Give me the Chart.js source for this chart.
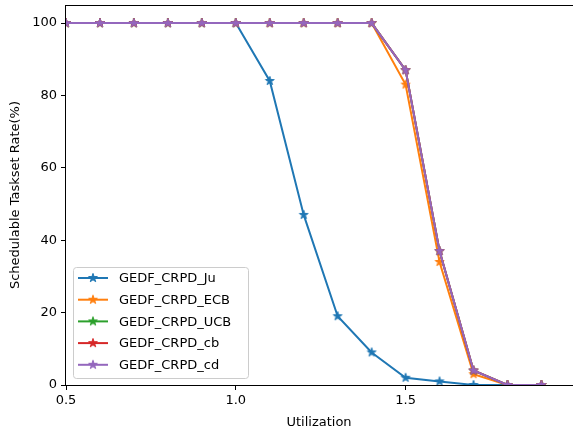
<!DOCTYPE html>
<html>
<head>
<meta charset="utf-8">
<script src="https://cdn.jsdelivr.net/npm/chart.js@4/dist/chart.umd.min.js"></script>
<style>
  html, body { margin: 0; padding: 0; background: #fff; }
  #wrap { width: 573px; height: 430px; }
</style>
</head>
<body>
<div id="wrap"><canvas id="rateChart" width="573" height="430"></canvas></div>
<script>
const utilization = [0.5, 0.6, 0.7, 0.8, 0.9, 1.0, 1.1, 1.2, 1.3, 1.4, 1.5, 1.6, 1.7, 1.8, 1.9];
const seriesNames = ["GEDF_CRPD_Ju", "GEDF_CRPD_ECB", "GEDF_CRPD_UCB", "GEDF_CRPD_cb", "GEDF_CRPD_cd"];
const ju  = [100, 100, 100, 100, 100, 100, 84, 47, 19, 9, 2, 1, 0, 0, 0];
const ecb = [100, 100, 100, 100, 100, 100, 100, 100, 100, 100, 83, 34, 3, 0, 0];
const ucb = [100, 100, 100, 100, 100, 100, 100, 100, 100, 100, 87, 37, 4, 0, 0];
const cb  = [100, 100, 100, 100, 100, 100, 100, 100, 100, 100, 87, 37, 4, 0, 0];
const cd  = [100, 100, 100, 100, 100, 100, 100, 100, 100, 100, 87, 37, 4, 0, 0];
const xTicks = [0.5, 1.0, 1.5];
const yTicks = [0, 20, 40, 60, 80, 100];
const colors = ["#1f77b4", "#ff7f0e", "#2ca02c", "#d62728", "#9467bd"];

const FONT = "'DejaVu Sans', sans-serif";

function makeStar(color) {
  const c = document.createElement("canvas");
  c.width = 12; c.height = 12;
  const ctx = c.getContext("2d");
  const R = 4.6, r = R * 0.382;
  ctx.beginPath();
  for (let i = 0; i < 10; i++) {
    const rad = i % 2 === 0 ? R : r;
    const a = -Math.PI / 2 + i * Math.PI / 5;
    const px = 6 + rad * Math.cos(a), py = 6 + rad * Math.sin(a);
    if (i === 0) ctx.moveTo(px, py); else ctx.lineTo(px, py);
  }
  ctx.closePath();
  ctx.fillStyle = color;
  ctx.fill();
  ctx.lineWidth = 1;
  ctx.strokeStyle = color;
  ctx.stroke();
  return c;
}

const stars = colors.map(makeStar);
const allSeries = [ju, ecb, ucb, cb, cd];

const datasets = allSeries.map((vals, i) => ({
  label: seriesNames[i],
  data: vals.map((v, j) => ({ x: utilization[j], y: v })),
  borderColor: colors[i],
  backgroundColor: colors[i],
  borderWidth: 2,
  pointStyle: stars[i],
  pointRadius: 5,
  pointHoverRadius: 5,
  tension: 0,
  order: allSeries.length - i
}));

const framePlugin = {
  id: "frame",
  afterDatasetsDraw(chart) {
    const { ctx, chartArea: a } = chart;
    ctx.save();
    ctx.strokeStyle = "#000";
    ctx.lineWidth = 1;
    ctx.strokeRect(Math.round(a.left) - 0.5, Math.round(a.top) + 0.5, Math.round(a.right - a.left) + 2, Math.round(a.bottom - a.top));
    ctx.restore();

    // legend box
    const lx = a.left + 7, lw = 175, lh = 111, ly = a.bottom - 7 - lh;
    ctx.save();
    ctx.beginPath();
    ctx.roundRect(lx + 0.5, ly + 0.5, lw, lh, 3);
    ctx.fillStyle = "rgba(255,255,255,0.8)";
    ctx.fill();
    ctx.strokeStyle = "#cccccc";
    ctx.lineWidth = 1;
    ctx.stroke();
    ctx.font = "13px " + FONT;
    ctx.textBaseline = "middle";
    ctx.fillStyle = "#000";
    seriesNames.forEach((name, i) => {
      const y = ly + 11 + i * 21.7;
      ctx.beginPath();
      ctx.moveTo(lx + 5, y);
      ctx.lineTo(lx + 35, y);
      ctx.strokeStyle = colors[i];
      ctx.lineWidth = 2;
      ctx.stroke();
      ctx.drawImage(stars[i], lx + 20 - 6, y - 6);
      ctx.fillText(name, lx + 46, y + 1);
    });
    ctx.restore();
  }
};

new Chart(document.getElementById("rateChart"), {
  type: "line",
  data: { datasets },
  plugins: [framePlugin],
  options: {
    responsive: false,
    animation: false,
    layout: { autoPadding: false, padding: { top: 5, right: 1, left: 0, bottom: 0 } },
    plugins: { legend: { display: false }, tooltip: { enabled: false } },
    scales: {
      x: {
        type: "linear",
        min: 0.5,
        max: 1.99,
        afterBuildTicks: s => { s.ticks = xTicks.map(v => ({ value: v })); },
        afterFit: s => { s.height = 45; s.paddingLeft = 0; s.paddingRight = 0; },
        grid: { drawOnChartArea: false, drawTicks: true, tickLength: 5, color: "#000" },
        border: { display: false },
        ticks: { color: "#000", font: { family: FONT, size: 13 }, padding: 3, maxRotation: 0,
                 callback: v => Number(v).toFixed(1) },
        title: { display: true, text: "Utilization", color: "#000", font: { family: FONT, size: 13 }, padding: { top: 0, bottom: 0 } }
      },
      y: {
        min: 0,
        max: 105,
        afterBuildTicks: s => { s.ticks = yTicks.map(v => ({ value: v })); },
        afterFit: s => { s.width = 66; s.paddingTop = 0; s.paddingBottom = 0; },
        grid: { drawOnChartArea: false, drawTicks: true, tickLength: 5, color: "#000" },
        border: { display: false },
        ticks: { color: "#000", font: { family: FONT, size: 13 }, padding: 4 },
        title: { display: true, text: "Schedulable Taskset Rate(%)", color: "#000", font: { family: FONT, size: 13 }, padding: { top: 8, bottom: 0 } }
      }
    }
  }
});
</script>
</body>
</html>
